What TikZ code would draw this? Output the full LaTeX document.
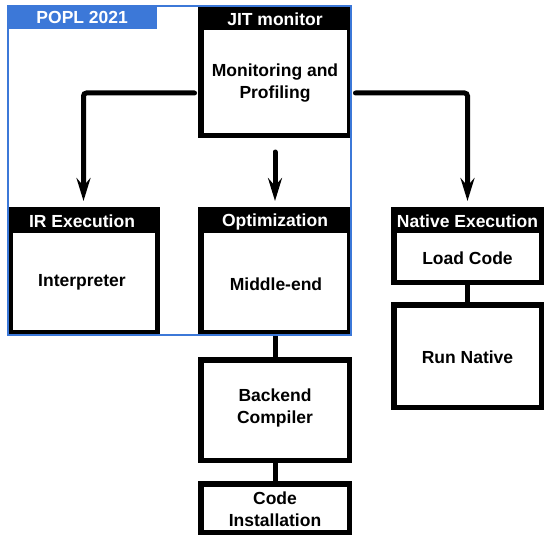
\documentclass[tikz,border=0pt]{standalone}
\usepackage{fontspec}
\setmainfont{Liberation Sans}
\usetikzlibrary{arrows.meta,calc}
\definecolor{poplblue}{HTML}{3C78D8}
\tikzset{
  x=1pt, y=-1pt,
  every node/.style={font=\fontsize{17.5}{22}\selectfont\bfseries},
  stagebox/.style={draw=black, fill=white, line width=5.5pt, inner sep=0pt},
  headtext/.style={text=white, inner sep=0pt},
  bodytext/.style={align=center, inner sep=0pt},
  flowarrow/.style={line width=5pt, line cap=round, rounded corners=3pt,
    -{Stealth[length=23pt,width=14pt,inset=8pt]}},
  joinline/.style={line width=5pt},
}
% black title bar across the top of a box
\newcommand{\headbar}[2]{%
  \fill[black] (#1.north west) rectangle ([yshift=-#2pt]#1.north east);}
\begin{document}
\begin{tikzpicture}
\useasboundingbox (0,0) rectangle (544,535);

% boxes (outer extents minus half the border on each side)
\node[stagebox, minimum width=148.5, minimum height=126.5] (jit) at (275,72) {};
\node[stagebox, minimum width=147.5, minimum height=122.5] (ir)  at (83.5,271) {};
\node[stagebox, minimum width=148.5, minimum height=122.5] (opt) at (275,271) {};
\node[stagebox, minimum width=148.5, minimum height=100.5] (be)  at (275,410) {};
\node[stagebox, minimum width=148.5, minimum height=48.5]  (ci)  at (275,508) {};
\node[stagebox, minimum width=147.5, minimum height=72.5]  (nat) at (467.5,246) {};
\node[stagebox, minimum width=147.5, minimum height=102.5] (run) at (467.5,356) {};

% connectors between stages
\coordinate (midstart) at (275,152);
\draw[flowarrow] ([xshift=-3.5pt,yshift=-21pt]jit.west) -| ([yshift=6pt]ir.north);
\draw[flowarrow] (midstart) -- ([yshift=6pt]opt.north);
\draw[flowarrow] ([xshift=3.5pt,yshift=-21pt]jit.east) -| ([yshift=6pt]nat.north);
\draw[joinline] (opt.south) -- (be.north);
\draw[joinline] (be.south) -- (ci.north);
\draw[joinline] (nat.south) -- (run.north);

% title bars
\headbar{jit}{24.5}
\headbar{ir}{25.5}
\headbar{opt}{25.5}
\headbar{nat}{25.5}

% labels
\node[headtext] (jitT) at (275,19.5) {JIT monitor};
\node[headtext] (irT)  at (82,221.5) {IR Execution};
\node[headtext] (optT) at (275,221.5) {Optimization};
\node[headtext] (natT) at (467.5,221.5) {Native Execution};

\node[bodytext] (jitB) at (275,83) {Monitoring and\\Profiling};
\node[bodytext] (irB)  at (82,282) {Interpreter};
\node[bodytext] (optB) at (276,284) {Middle-end};
\node[bodytext] (beB)  at (275,408) {Backend\\Compiler};
\node[bodytext] (ciB)  at (275,509) {Code\\Installation};
\node[bodytext] (natB) at (467.5,258) {Load Code};
\node[bodytext] (runB) at (467.5,357) {Run Native};

% highlighted region with its tab
\node[draw=poplblue, line width=2pt, inner sep=0pt,
      minimum width=343, minimum height=328] (popl) at (179.5,170.5) {};
\node[fill=poplblue, text=white, inner sep=0pt, anchor=north west,
      minimum width=150, minimum height=23] (poplT) at (7,6) {POPL 2021};
\end{tikzpicture}
\end{document}
